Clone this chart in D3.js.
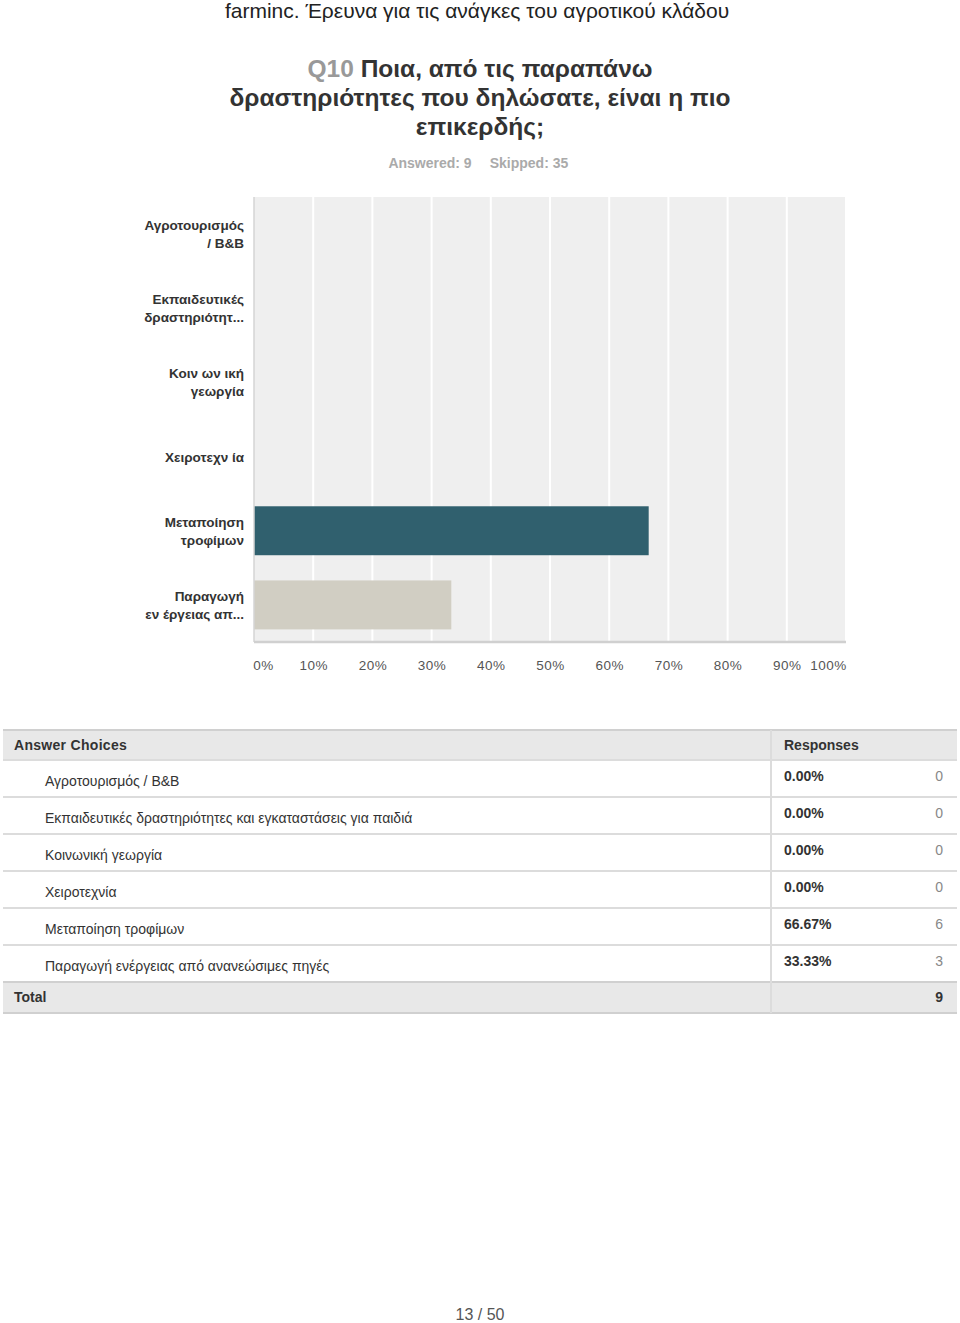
<!DOCTYPE html>
<html><head><meta charset="utf-8">
<script src="https://cdn.jsdelivr.net/npm/d3@7"></script>
<style>
html,body{margin:0;padding:0;background:#fff;}
svg{display:block;font-family:"Liberation Sans",Arial,sans-serif;}
</style></head>
<body>
<svg id="c" width="960" height="1323"></svg>
<script>
const categories = ["Αγροτουρισμός / B&B","Εκπαιδευτικές δραστηριότητες","Κοινωνική γεωργία","Χειροτεχνία","Μεταποίηση τροφίμων","Παραγωγή ενέργειας από ανανεώσιμες πηγές"];
const axisLabels = [["Αγροτουρισμός","/ B&B"],["Εκπαιδευτικές","δραστηριότητ..."],["Κοιν ων ική","γεωργία"],["Χειροτεχν ία"],["Μεταποίηση","τροφίμων"],["Παραγωγή","εν έργειας απ..."]];
const tableLabels = ["Αγροτουρισμός / B&B","Εκπαιδευτικές δραστηριότητες και εγκαταστάσεις για παιδιά","Κοινωνική γεωργία","Χειροτεχνία","Μεταποίηση τροφίμων","Παραγωγή ενέργειας από ανανεώσιμες πηγές"];
const percents = [0, 0, 0, 0, 66.67, 33.33];
const counts = [0, 0, 0, 0, 6, 3];
const totalCount = 9;
const barColors = ["#30606e","#30606e","#30606e","#30606e","#30606e","#d1cec3"];
const tickValues = [0,10,20,30,40,50,60,70,80,90,100];
const tickLabels = ["0%","10%","20%","30%","40%","50%","60%","70%","80%","90%","100%"];

const svg = d3.select("#c");

// Header texts
svg.append("text").attr("x",477).attr("y",18).attr("text-anchor","middle")
  .attr("font-size",21).attr("fill","#222").text("farminc. Έρευνα για τις ανάγκες του αγροτικού κλάδου");

const q = svg.append("text").attr("text-anchor","middle").attr("font-size",24.5).attr("font-weight","bold").attr("fill","#333");
const l1 = q.append("tspan").attr("x",480).attr("y",77);
l1.append("tspan").attr("fill","#999").text("Q10 ");
l1.append("tspan").text("Ποια, από τις παραπάνω");
q.append("tspan").attr("x",480).attr("y",106).text("δραστηριότητες που δηλώσατε, είναι η πιο");
q.append("tspan").attr("x",480).attr("y",135).text("επικερδής;");

svg.append("text").attr("x",430).attr("y",168).attr("text-anchor","middle").attr("font-size",14).attr("font-weight","bold").attr("fill","#aaa").text("Answered: 9");
svg.append("text").attr("x",529).attr("y",168).attr("text-anchor","middle").attr("font-size",14).attr("font-weight","bold").attr("fill","#aaa").text("Skipped: 35");

// Chart
const x = d3.scaleLinear().domain([0,100]).range([254,846]);
const y = d3.scaleBand().domain(categories).range([197,642]).paddingInner(0.34).paddingOuter(0.17);

svg.append("rect").attr("x",x(0)).attr("y",197).attr("width",x(100)-x(0)).attr("height",445).attr("fill","#efefef");

svg.append("g").selectAll("line").data(tickValues.slice(1)).join("line")
  .attr("x1",d=>x(d)).attr("x2",d=>x(d)).attr("y1",197).attr("y2",642)
  .attr("stroke","#fff").attr("stroke-width",2);

svg.append("g").selectAll("rect").data(categories).join("rect")
  .attr("x",x(0)).attr("y",d=>y(d)).attr("width",(d,i)=>x(percents[i])-x(0)).attr("height",y.bandwidth())
  .attr("fill",(d,i)=>barColors[i]);

svg.append("line").attr("x1",254).attr("x2",254).attr("y1",197).attr("y2",642).attr("stroke","#d4d4d4").attr("stroke-width",1.5);
svg.append("line").attr("x1",254).attr("x2",846).attr("y1",642).attr("y2",642).attr("stroke","#d0d0d0").attr("stroke-width",2.5);

const xAxis = d3.axisBottom(x).tickValues(tickValues).tickFormat((d,i)=>tickLabels[i]).tickSize(0).tickPadding(0);
const gx = svg.append("g").attr("transform","translate(0,670)").call(xAxis);
gx.select(".domain").remove();
gx.selectAll("text").attr("font-size",13.5).attr("fill","#555").attr("font-family","Liberation Sans, Arial, sans-serif").attr("dy","0")
  .attr("x",(d,i)=> i===0 ? 9 : (i===10 ? -18 : 0)).attr("letter-spacing","0.5");

const ylab = svg.append("g");
categories.forEach((c,i)=>{
  const lines = axisLabels[i];
  const cy = y(c) + y.bandwidth()/2;
  const t = ylab.append("text").attr("text-anchor","end").attr("font-size",13.5).attr("font-weight","bold").attr("fill","#333");
  lines.forEach((ln,j)=>{
    t.append("tspan").attr("x",244).attr("y", cy + 5 + (j - (lines.length-1)/2)*18).text(ln);
  });
});

// Table
const tTop = 730, hH = 30, rH = 37;
const tbl = svg.append("g");
tbl.append("rect").attr("x",3).attr("y",tTop).attr("width",954).attr("height",hH).attr("fill","#e8e8e8");
tbl.append("line").attr("x1",3).attr("x2",957).attr("y1",tTop).attr("y2",tTop).attr("stroke","#d0d0d0").attr("stroke-width",2);
tbl.append("text").attr("x",14).attr("y",tTop+20).attr("font-size",14).attr("font-weight","bold").attr("fill","#333").attr("letter-spacing","0.3").text("Answer Choices");
tbl.append("text").attr("x",784).attr("y",tTop+20).attr("font-size",14).attr("font-weight","bold").attr("fill","#333").text("Responses");

tableLabels.forEach((lab,i)=>{
  const top = tTop + hH + i*rH;
  tbl.append("line").attr("x1",3).attr("x2",957).attr("y1",top).attr("y2",top).attr("stroke","#dcdcdc").attr("stroke-width",2);
  tbl.append("text").attr("x",45).attr("y",top+26).attr("font-size",14).attr("fill","#333").text(lab);
  tbl.append("text").attr("x",784).attr("y",top+21).attr("font-size",14).attr("font-weight","bold").attr("fill","#333").text(percents[i].toFixed(2)+"%");
  tbl.append("text").attr("x",943).attr("y",top+21).attr("text-anchor","end").attr("font-size",14).attr("fill","#888").text(counts[i]);
});
const totTop = tTop + hH + tableLabels.length*rH;
tbl.append("rect").attr("x",3).attr("y",totTop).attr("width",954).attr("height",31).attr("fill","#e8e8e8");
tbl.append("line").attr("x1",3).attr("x2",957).attr("y1",totTop).attr("y2",totTop).attr("stroke","#d0d0d0").attr("stroke-width",2);
tbl.append("line").attr("x1",3).attr("x2",957).attr("y1",totTop+31).attr("y2",totTop+31).attr("stroke","#d0d0d0").attr("stroke-width",2);
tbl.append("text").attr("x",14).attr("y",totTop+20).attr("font-size",14).attr("font-weight","bold").attr("fill","#333").text("Total");
tbl.append("text").attr("x",943).attr("y",totTop+20).attr("text-anchor","end").attr("font-size",14).attr("font-weight","bold").attr("fill","#333").text(totalCount);
tbl.append("line").attr("x1",771).attr("x2",771).attr("y1",tTop).attr("y2",totTop+31).attr("stroke","#dcdcdc").attr("stroke-width",2);

svg.append("text").attr("x",480).attr("y",1320).attr("text-anchor","middle").attr("font-size",16).attr("fill","#555").text("13 / 50");
</script>
</body></html>
